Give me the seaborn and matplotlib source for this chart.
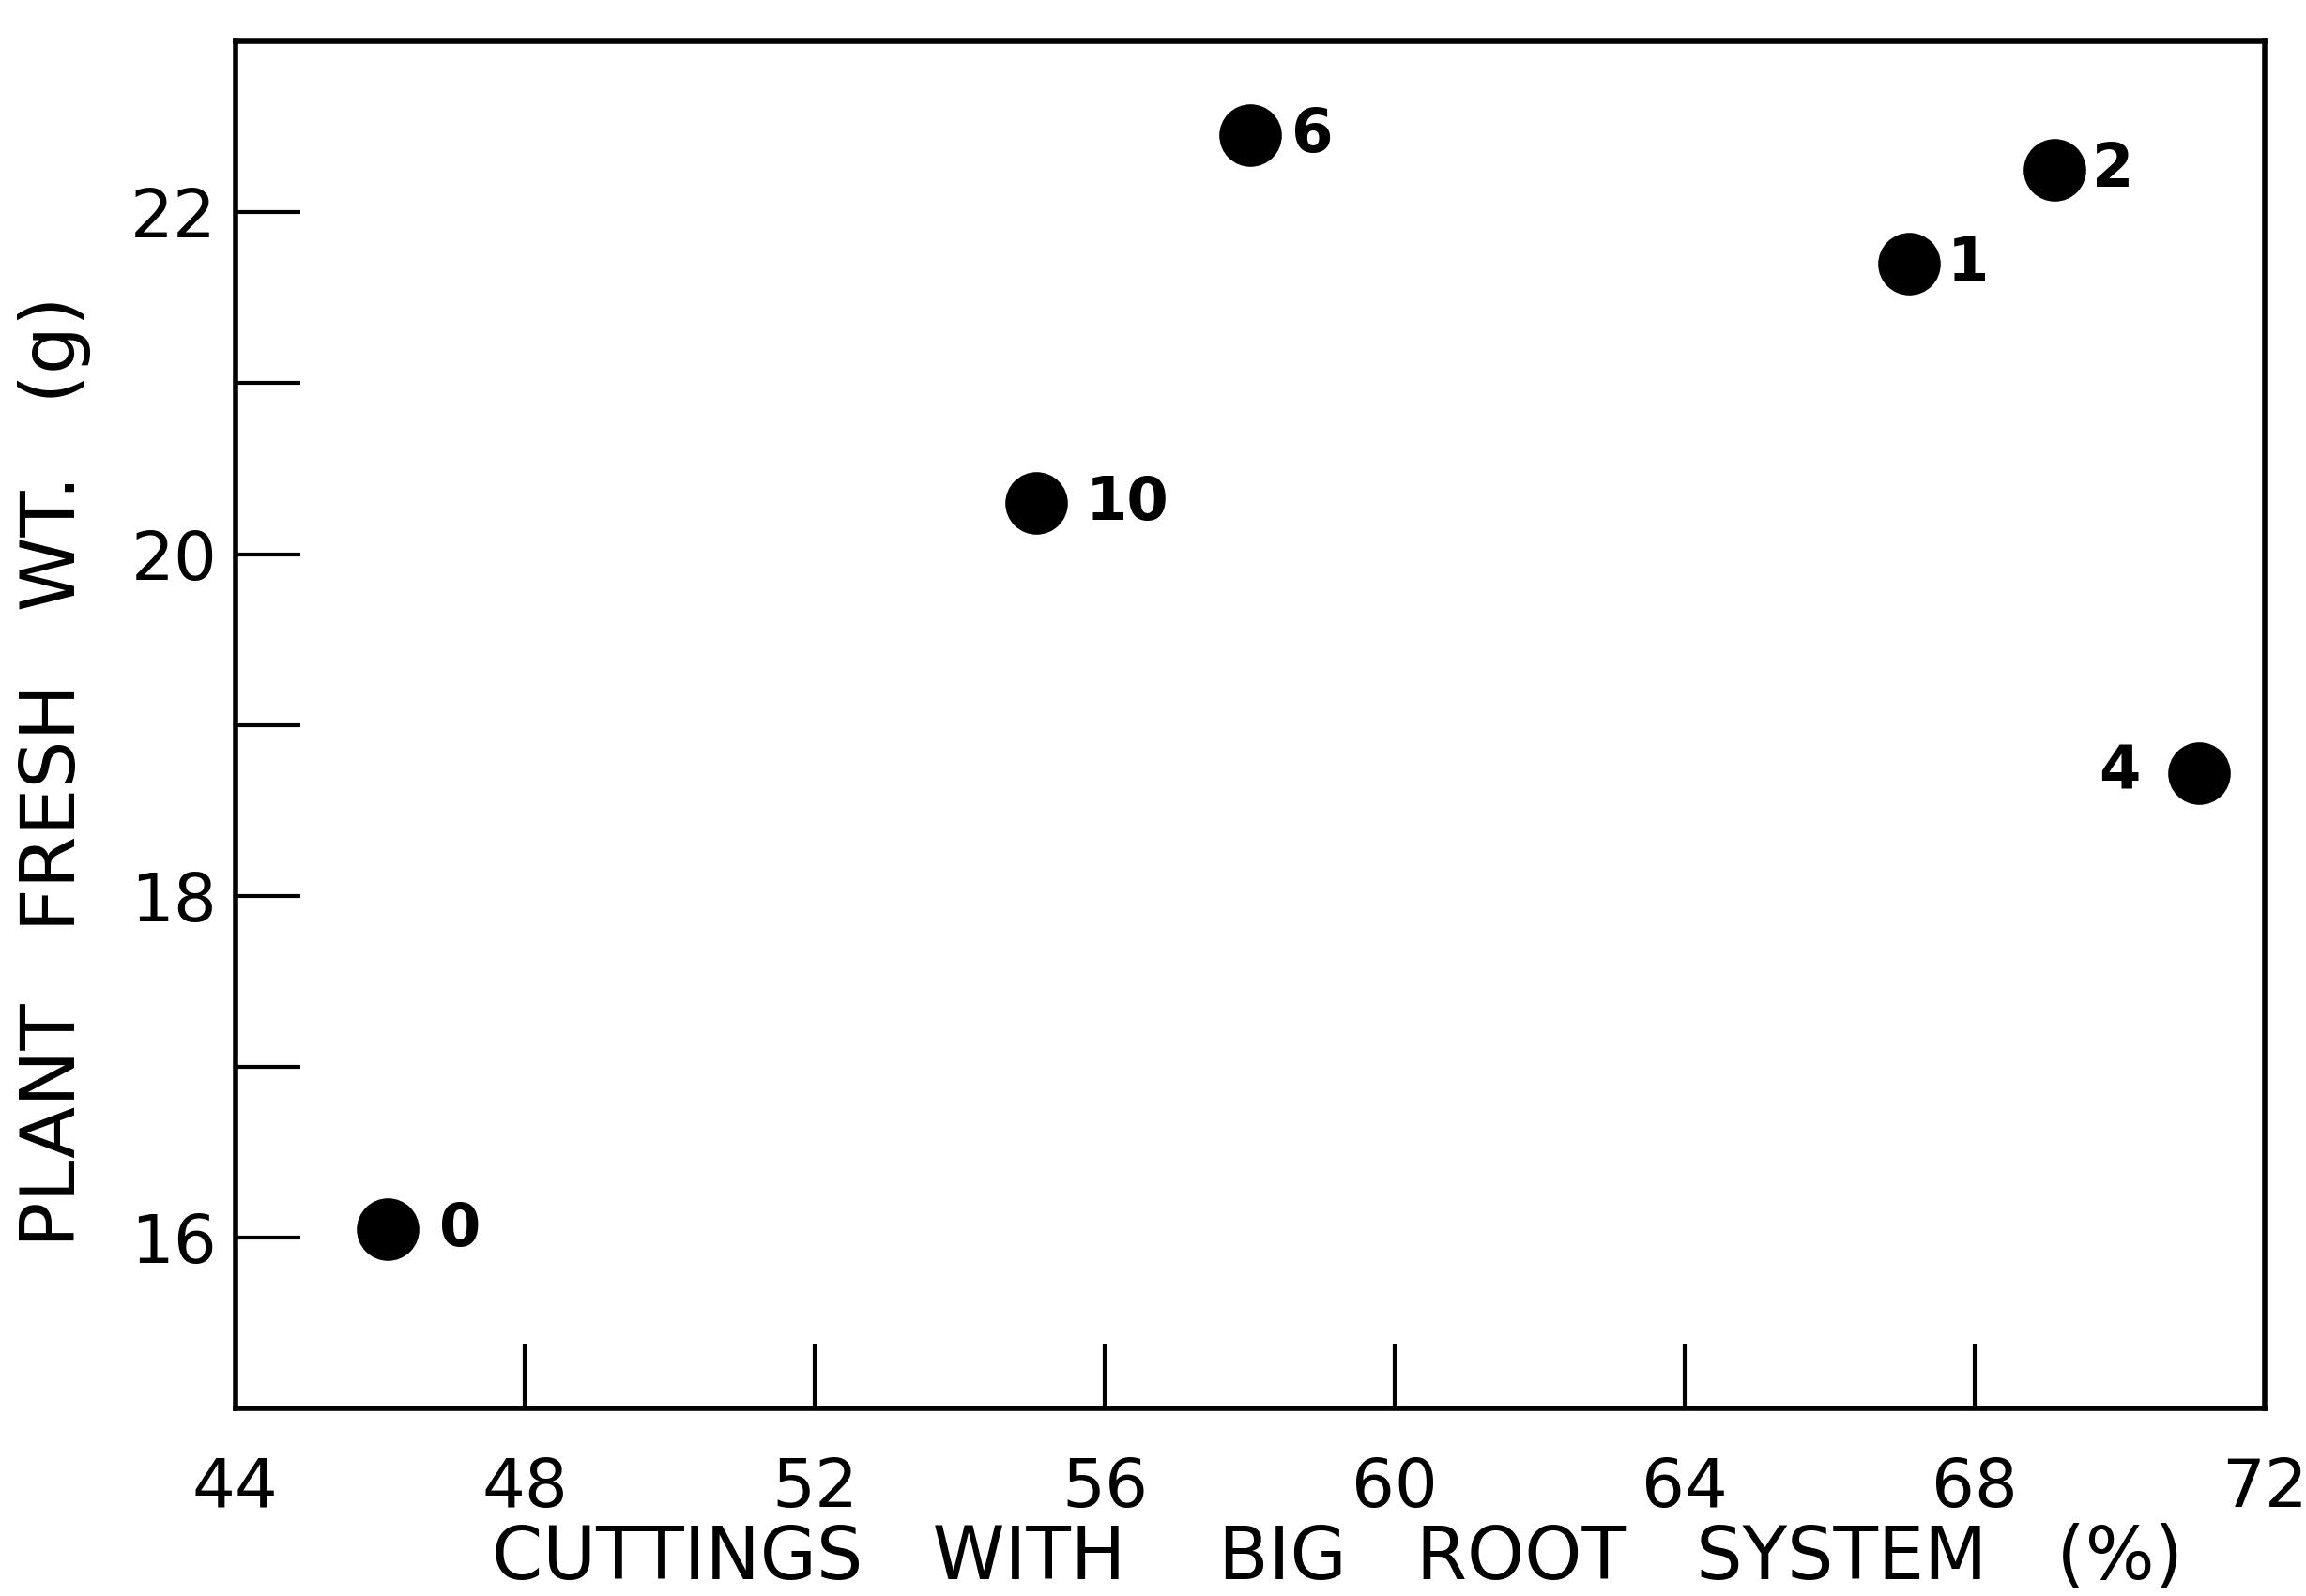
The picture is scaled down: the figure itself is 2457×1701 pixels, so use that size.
import pandas as pd
import matplotlib
matplotlib.use("Agg")
import matplotlib.pyplot as plt
import seaborn as sns

# data
roots = [46.1, 55.05, 58.0, 67.1, 69.1, 71.1]
fresh_wt = [16.05, 20.3, 22.45, 21.7, 22.25, 18.72]
labels = ["0", "10", "6", "1", "2", "4"]
xticks = [48, 52, 56, 60, 64, 68]
xticklabels = ["44", "48", "52", "56", "60", "64", "68", "72"]
yticks = [16, 17, 18, 19, 20, 21, 22]
yticklabels = ["16", "", "18", "", "20", "", "22"]

df = pd.DataFrame({"roots": roots, "wt": fresh_wt, "lab": labels})

sns.set_style("ticks", {"axes.edgecolor": "black", "text.color": "black",
                        "xtick.color": "black", "ytick.color": "black",
                        "axes.labelcolor": "black"})
plt.rcParams['font.family'] = ['DejaVu Sans']

fig = plt.figure(figsize=(24.57, 17.01), dpi=100)
ax = fig.add_axes([0.102, 0.1176, 0.880, 0.8564])

sns.scatterplot(data=df, x="roots", y="wt", s=2300, color="black",
                edgecolor="black", linewidth=0, ax=ax, legend=False)

# label offsets (points)
offs = {"0": (56, 0), "10": (70, 0), "6": (48, 0), "1": (45, 0), "2": (45, 0), "4": (-61, 0)}
for x, y, t in zip(roots, fresh_wt, labels):
    ax.annotate(t, (x, y), xytext=offs[t], textcoords="offset points",
                ha="center", va="center", fontsize=46, fontweight="semibold",
                color="black")

ax.set_xlim(44, 72)
ax.set_ylim(15, 23)
ax.set_xticks(xticks)
ax.set_xticklabels([])
ax.set_yticks(yticks)
ax.set_yticklabels(yticklabels)
ax.tick_params(axis="both", direction="in", length=50, width=3, labelsize=52,
               pad=14, colors="black")
ax.tick_params(axis="x", labelbottom=False)

# x labels sit at all positions including the ends (no tick marks there)
for v, t in zip(range(44, 73, 4), xticklabels):
    ax.text(v, -0.035, t, transform=ax.get_xaxis_transform(),
            ha="center", va="top", fontsize=52, color="black")

for sp in ax.spines.values():
    sp.set_linewidth(4)
    sp.set_color("black")
    sp.set_visible(True)

ax.set_xlabel("CUTTINGS   WITH    BIG   ROOT   SYSTEM   (%)", fontsize=56, color="black")
ax.xaxis.set_label_coords(0.543, -0.084)
ax.xaxis.label.set_va("top")
ax.set_ylabel("PLANT   FRESH   WT.   (g)", fontsize=58, color="black")
ax.yaxis.set_label_coords(-0.071, 0.466)

fig.savefig("out.png", dpi=100)
